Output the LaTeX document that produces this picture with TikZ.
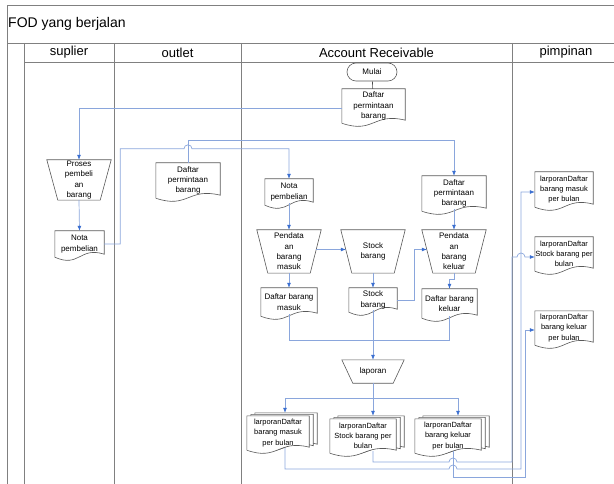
\documentclass[tikz,border=0pt]{standalone}
\usepackage{fontspec}
\setmainfont{Liberation Sans}
\usetikzlibrary{arrows.meta, calc, backgrounds}

\definecolor{flowline}{HTML}{8AA6DC}
\definecolor{flowhead}{HTML}{3A6ED0}
\definecolor{laneline}{HTML}{808080}

\newcommand{\boxfont}{\fontsize{8}{10.3}\selectfont}
\newcommand{\repfont}{\fontsize{7.5}{10.2}\selectfont}

% document outline, optional shift for stacked pages
\newcommand{\docshape}[2][0,0]{%
  \draw[shapeline] ($(#2.north west)+(#1)$) -- ($(#2.north east)+(#1)$)
    -- ($(#2.south east)+(#1)+(0,-3)$)
    .. controls ($(#2.south)+(#1)+(0,-11)$) and ($(#2.south)+(#1)+(0,11)$) .. ($(#2.south west)+(#1)$) -- cycle;}
% manual operation outline
\newcommand{\manshape}[1]{%
  \draw[shapeline] (#1.north west) -- (#1.north east) -- ($(#1.south east)+(-11,0)$) -- ($(#1.south west)+(11,0)$) -- cycle;}

\begin{document}
\begin{tikzpicture}[x=1pt, y=-1pt,
  lane/.style={draw=laneline, line width=0.8pt},
  shapeline/.style={draw=black!65, line width=0.6pt, fill=white},
  box/.style={inner sep=0pt, align=center, font=\boxfont},
  repbox/.style={box, font=\repfont},
  terminal/.style={box, draw=black!65, line width=0.6pt, rounded corners=9pt},
  plainline/.style={draw=black!70, line width=0.6pt},
  link/.style={draw=flowline, line width=0.7pt},
  flow/.style={link, -{Latex[length=5pt, width=4pt, color=flowhead]}}]
\useasboundingbox (0,0) rectangle (614,484);

% swimlanes
\draw[lane] (614,5) -- (7,5) -- (7,484);
\draw[lane] (7,43) -- (614,43);
\draw[lane] (24,62) -- (614,62);
\foreach \x in {24,114,241,512}
  \draw[lane] (\x,43) -- (\x,484);

\node[anchor=west, inner sep=0pt, font=\fontsize{14}{16}\selectfont] (title) at (8,24) {FOD yang berjalan};
\foreach \x/\name/\txt in {69/suplier/suplier, 177.5/outlet/outlet, 376.5/ar/Account Receivable, 566/pimpinan/pimpinan}
  \node[font=\fontsize{13}{15}\selectfont] (h-\name) at (\x,52.5) {\txt};

% suplier
\node[box, minimum width=64pt, minimum height=40pt] (proses) at (79,180) {Proses\\pembeli\\an\\barang};
\node[box, minimum width=49pt, minimum height=26pt] (supNota) at (79.5,244) {Nota\\pembelian};

% outlet
\node[box, minimum width=64pt, minimum height=35pt] (outDaftar) at (188,180.5) {Daftar\\permintaan\\barang};

% account receivable
\node[terminal, minimum width=50pt, minimum height=18pt] (mulai) at (372,72) {Mulai};
\node[box, minimum width=63pt, minimum height=34pt] (arDaftar) at (373.5,106) {Daftar\\permintaan\\barang};
\node[box, minimum width=48pt, minimum height=26pt] (arNota) at (289,192) {Nota\\pembelian};
\node[box, minimum width=64pt, minimum height=35pt] (arMinta) at (454,193.5) {Daftar\\permintaan\\barang};
\node[box, minimum width=64pt, minimum height=43pt] (pendMasuk) at (289,251.5) {Pendata\\an\\barang\\masuk};
\node[box, minimum width=64pt, minimum height=43pt] (stockOp) at (373,251.5) {Stock\\barang};
\node[box, minimum width=64pt, minimum height=43pt] (pendKeluar) at (454,251.5) {Pendata\\an\\barang\\keluar};
\node[box, minimum width=56pt, minimum height=28pt] (dbMasuk) at (289,302) {Daftar barang\\masuk};
\node[box, minimum width=48pt, minimum height=24pt] (stockDoc) at (373,300) {Stock\\barang};
\node[box, minimum width=55pt, minimum height=29pt] (dbKeluar) at (449.5,303.5) {Daftar barang\\keluar};
\node[box, minimum width=62pt, minimum height=23pt] (laporan) at (373,371.5) {laporan};
\node[repbox, minimum width=62pt, minimum height=34pt] (rMasuk) at (278,433) {larporanDaftar\\barang masuk\\per bulan};
\node[repbox, minimum width=66pt, minimum height=34pt] (rStock) at (363,436) {larporanDaftar\\Stock barang per\\bulan};
\node[repbox, minimum width=66pt, minimum height=34pt] (rKeluar) at (448,436) {larporanDaftar\\barang keluar\\per bulan};

% pimpinan
\node[repbox, minimum width=58pt, minimum height=35pt] (pMasuk) at (564,189.5) {larporanDaftar\\barang masuk\\per bulan};
\node[repbox, minimum width=58pt, minimum height=34pt] (pStock) at (564,254) {larporanDaftar\\Stock barang per\\bulan};
\node[repbox, minimum width=58pt, minimum height=34pt] (pKeluar) at (564,328) {larporanDaftar\\barang keluar\\per bulan};

\begin{pgfonlayer}{background}
  \foreach \n in {supNota,outDaftar,arDaftar,arNota,arMinta,dbMasuk,stockDoc,dbKeluar,pMasuk,pStock,pKeluar}{
    \docshape{\n}}
  \foreach \n in {rMasuk,rStock,rKeluar}{
    \docshape[8,-3]{\n}
    \docshape[4,-1.5]{\n}
    \docshape{\n}}
  \foreach \n in {proses,pendMasuk,stockOp,pendKeluar,laporan}{
    \manshape{\n}}
\end{pgfonlayer}

\coordinate (merge) at (373,340);
\coordinate (split) at (373,398);

% connectors
\draw[plainline] (mulai) -- (arDaftar);
\draw[flow] ([yshift=-2pt]arDaftar.west) -| (proses.north);
\draw[flow] (proses.south) -- (supNota.north);
\draw[flow] (supNota.east) -- ++(16,0) |- ($(outDaftar.north)+(-4,-14)$)
  arc[start angle=180, end angle=0, radius=4pt] -| (arNota.north);
\draw[flow] (outDaftar.north) -- ++(0,-22) -| (arMinta.north);
\draw[flow] ([yshift=2pt]arNota.south) -- (pendMasuk.north);
\draw[flow] ([yshift=2pt]arMinta.south) -- (pendKeluar.north);
\draw[flow] ([xshift=-5pt,yshift=2pt]pendMasuk.east) -- ([xshift=5pt,yshift=2pt]stockOp.west);
\draw[flow] (stockOp.south) -- (stockDoc.north);
\draw[flow] (stockDoc.east) -- ++(17,0) |- ([xshift=5pt,yshift=2pt]pendKeluar.west);
\draw[flow] (pendMasuk.south) -- (dbMasuk.north);
\draw[flow] (pendKeluar.south) -- ++(0,6) -| (dbKeluar.north);
\draw[link] ([yshift=2pt]dbMasuk.south) |- (merge);
\draw[link] ([yshift=2pt]dbKeluar.south) |- (merge);
\draw[flow] ([yshift=2pt]stockDoc.south) -- (laporan.north);
\draw[link] (laporan.south) -- (split);
\draw[flow] (split) -| ([xshift=7pt,yshift=3pt]rMasuk.north);
\draw[flow] (split) -- ([xshift=10pt,yshift=3pt]rStock.north);
\draw[flow] (split) -| ([xshift=10pt,yshift=3pt]rKeluar.north);

% reports to pimpinan
\draw[flow] ([xshift=10pt,yshift=2pt]rStock.south) |- (449,462)
  arc[start angle=180, end angle=0, radius=4pt] -- (512,462) |- (517,257)
  arc[start angle=180, end angle=0, radius=4pt] -- ([yshift=-3pt]pStock.west);
\draw[flow] ([xshift=7pt,yshift=2pt]rMasuk.south) |- (449,469)
  arc[start angle=180, end angle=0, radius=4pt] -- (521,469) |- ([yshift=-2.5pt]pMasuk.west);
\draw[flow] ([xshift=5pt,yshift=2pt]rKeluar.south) |- (525,477) |- ([yshift=-2pt]pKeluar.west);
\end{tikzpicture}
\end{document}
